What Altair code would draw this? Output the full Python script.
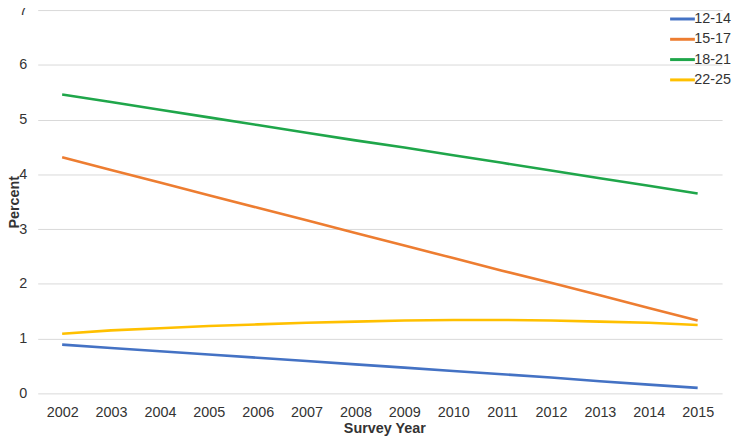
import altair as alt
import pandas as pd

years = list(range(2002, 2016))
groups = ["12-14", "15-17", "18-21", "22-25"]
colors = ["#4472C4", "#ED7D31", "#1FA64A", "#FFC000"]

v_12_14 = [0.89, 0.83, 0.77, 0.71, 0.65, 0.59, 0.53, 0.47, 0.41, 0.35, 0.29, 0.22, 0.16, 0.10]
v_15_17 = [4.31, 4.08, 3.85, 3.62, 3.39, 3.16, 2.93, 2.70, 2.47, 2.24, 2.02, 1.79, 1.56, 1.33]
v_18_21 = [5.46, 5.32, 5.18, 5.04, 4.90, 4.76, 4.62, 4.49, 4.35, 4.21, 4.07, 3.93, 3.79, 3.65]
v_22_25 = [1.09, 1.15, 1.19, 1.23, 1.26, 1.29, 1.31, 1.33, 1.34, 1.34, 1.33, 1.31, 1.29, 1.25]

series = [v_12_14, v_15_17, v_18_21, v_22_25]
rows = []
for g, vals in zip(groups, series):
    for y, v in zip(years, vals):
        rows.append({"Survey Year": str(y), "Percent": v, "Group": g})
df = pd.DataFrame(rows)

font = "Liberation Sans"
txt = "#333333"
fs = 14.5

chart = alt.Chart(df).mark_line(strokeWidth=2.6).encode(
    x=alt.X("Survey Year:O",
            scale=alt.Scale(type="point", padding=0.5),
            axis=alt.Axis(labelAngle=0, ticks=False, domain=False, grid=False,
                          labelFont=font, labelFontSize=fs, labelColor=txt,
                          labelPadding=12,
                          title="Survey Year", titleFont=font, titleFontSize=fs,
                          titleFontWeight="bold", titleColor=txt, titlePadding=3,
                          titleX=350, titleAlign="center")),
    y=alt.Y("Percent:Q",
            scale=alt.Scale(domain=[0, 7], nice=False),
            axis=alt.Axis(values=[0, 1, 2, 3, 4, 5, 6, 7], format="d",
                          ticks=False, domain=False, gridColor="#d9d9d9",
                          gridWidth=1,
                          labelFont=font, labelFontSize=fs, labelColor=txt,
                          labelPadding=11,
                          title="Percent", titleFont=font, titleFontSize=fs,
                          titleFontWeight="bold", titleColor=txt,
                          titleX=-16, titleBaseline="bottom")),
    color=alt.Color("Group:N",
                    scale=alt.Scale(domain=groups, range=colors),
                    legend=alt.Legend(title=None, orient="none",
                                      legendX=643, legendY=1,
                                      symbolType="M-2,0H2", symbolSize=156,
                                      symbolStrokeWidth=3,
                                      labelFont=font, labelFontSize=fs,
                                      labelColor=txt, labelOffset=4,
                                      rowPadding=5.5, padding=0)),
).properties(
    width=691, height=387,
    autosize=alt.AutoSizeParams(type="none"),
    padding={"left": 30, "top": 0, "right": 10, "bottom": 46},
).configure_view(stroke=None)

chart.save("out.html", embed_options={"renderer": "svg", "actions": False})
